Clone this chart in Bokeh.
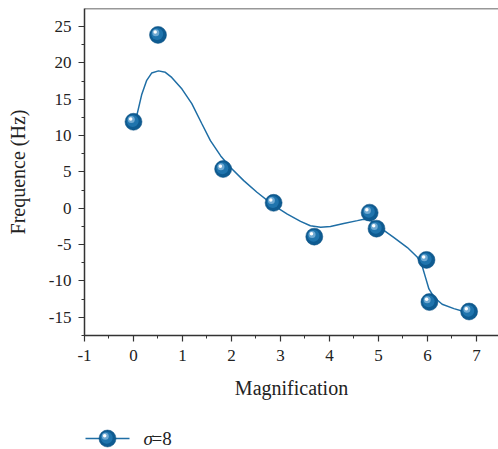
from bokeh.plotting import figure
from bokeh.layouts import column
from bokeh.models import Range1d, Span, SingleIntervalTicker
from bokeh.core.properties import value
from bokeh.embed import file_html
from bokeh.resources import INLINE

# measured points
mag = [0.0, 0.50, 1.83, 2.86, 3.69, 4.82, 4.96, 5.98, 6.04, 6.85]
freq = [11.9, 23.85, 5.4, 0.75, -3.9, -0.6, -2.8, -7.1, -12.9, -14.2]

# smooth fitted curve
curve_x = [0.0, 0.067, 0.17, 0.27, 0.37, 0.51, 0.65, 0.78, 0.99, 1.19, 1.39, 1.57,
           1.78, 1.98, 2.25, 2.52, 2.86, 3.14, 3.41, 3.61, 3.82, 4.02, 4.29, 4.57,
           4.70, 4.84, 5.04, 5.31, 5.59, 5.79, 5.89, 5.96, 6.03, 6.13, 6.30, 6.54,
           6.74, 6.85]
curve_y = [11.9, 12.75, 15.7, 17.6, 18.6, 18.9, 18.7, 18.0, 16.4, 14.4, 11.7, 9.3,
           7.2, 5.6, 3.8, 2.2, 0.4, -0.8, -1.8, -2.4, -2.6, -2.5, -2.1, -1.7,
           -1.5, -1.7, -2.7, -4.0, -5.4, -6.7, -7.9, -9.5, -11.1, -12.2, -13.2, -13.8,
           -14.2, -14.3]

x_ticks = [-1, 0, 1, 2, 3, 4, 5, 6, 7]
y_ticks = [-15, -10, -5, 0, 5, 10, 15, 20, 25]
legend_symbol = "σ"
legend_value = "=8"

FONT = "Liberation Serif"
LINE_C = "#1f6ea5"
BALL_C = "#0e5b91"

W, H = 498, 420
LH = 29
ML, MB, MT, MR = 84, 85, 8, 0
x0, x1 = -1.0, 7.45
y0, y1 = -17.5, 27.48

p = figure(width=W, height=H, output_backend="svg", toolbar_location=None,
           x_range=Range1d(x0, x1), y_range=Range1d(y0, y1),
           min_border_left=ML, min_border_bottom=MB, min_border_top=MT,
           min_border_right=MR)
p.outline_line_color = None
p.grid.visible = False
p.background_fill_color = "white"
p.border_fill_color = "white"

for ax in (p.xaxis[0], p.yaxis[0]):
    ax.axis_line_color = "#333333"
    ax.axis_line_width = 1.5
    ax.major_tick_line_color = "#333333"
    ax.minor_tick_line_color = "#333333"
    ax.major_tick_line_width = 1.2
    ax.minor_tick_line_width = 1.0
    ax.major_tick_out = 6
    ax.major_tick_in = 0
    ax.minor_tick_out = 3
    ax.minor_tick_in = 0
    ax.major_label_text_font = FONT
    ax.major_label_text_font_size = "17px"
    ax.major_label_text_color = "#222222"
    ax.axis_label_text_font = FONT
    ax.axis_label_text_font_size = "20px"
    ax.axis_label_text_font_style = "normal"
    ax.axis_label_text_color = "#222222"

p.xaxis.ticker = SingleIntervalTicker(interval=1, num_minor_ticks=2)
p.yaxis.ticker = SingleIntervalTicker(interval=5, num_minor_ticks=2)
p.xaxis.major_label_overrides = {t: str(t) for t in x_ticks}
p.yaxis.major_label_overrides = {t: str(t) for t in y_ticks}
p.xaxis.axis_label = "Magnification"
p.yaxis.axis_label = "Frequence (Hz)"
p.xaxis.major_label_standoff = 8
p.yaxis.major_label_standoff = 7
p.xaxis.axis_label_standoff = 13
p.yaxis.axis_label_standoff = 17

# top frame line
p.add_layout(Span(location=y1, dimension="width", line_color="#333333", line_width=1.5))

p.line(curve_x, curve_y, line_color=LINE_C, line_width=1.5)

# sphere-like markers
pxu_x = (W - ML - MR) / (x1 - x0)
pxu_y = (H - MB - MT) / (y1 - y0)
def off(xs, ys, dx, dy, ux, uy):
    return [v + dx / ux for v in xs], [v + dy / uy for v in ys]

def sphere(fig, xs, ys, ux, uy):
    fig.scatter(xs, ys, size=17, fill_color=BALL_C, line_color="#0a4f80", line_width=0.5)
    a, b = off(xs, ys, -0.8, 0.8, ux, uy)
    fig.scatter(a, b, size=12, fill_color="#1f74ad", line_color=None)
    a, b = off(xs, ys, -2.2, 2.2, ux, uy)
    fig.scatter(a, b, size=7, fill_color="#6fa9d2", line_color=None)
    a, b = off(xs, ys, -2.8, 2.8, ux, uy)
    fig.scatter(a, b, size=3.5, fill_color="#ffffff", line_color=None)

sphere(p, mag, freq, pxu_x, pxu_y)

# legend strip below the chart (pixel coordinates; frame aligned with main frame)
lf = figure(width=W, height=LH, output_backend="svg", toolbar_location=None,
            x_axis_type=None, y_axis_type=None,
            x_range=Range1d(ML, W - MR), y_range=Range1d(0, LH),
            min_border_left=ML, min_border_right=MR, min_border_top=0, min_border_bottom=0)
lf.outline_line_color = None
lf.grid.visible = False
lf.border_fill_color = "white"
lf.background_fill_color = "white"
ly = 11
lf.line([85, 129], [ly, ly], line_color=LINE_C, line_width=1.5)
sphere(lf, [107], [ly], 1.0, 1.0)
lf.text([143], [ly], text=[legend_symbol], text_font=value(FONT), text_font_size="19px",
        text_font_style="italic", text_baseline="middle", text_align="left", text_color="#222222")
lf.text([151], [ly], text=[legend_value], text_font=value(FONT), text_font_size="19px",
        text_baseline="middle", text_align="left", text_color="#222222")

open("out.html", "w").write(file_html(column(p, lf, spacing=0), INLINE))
